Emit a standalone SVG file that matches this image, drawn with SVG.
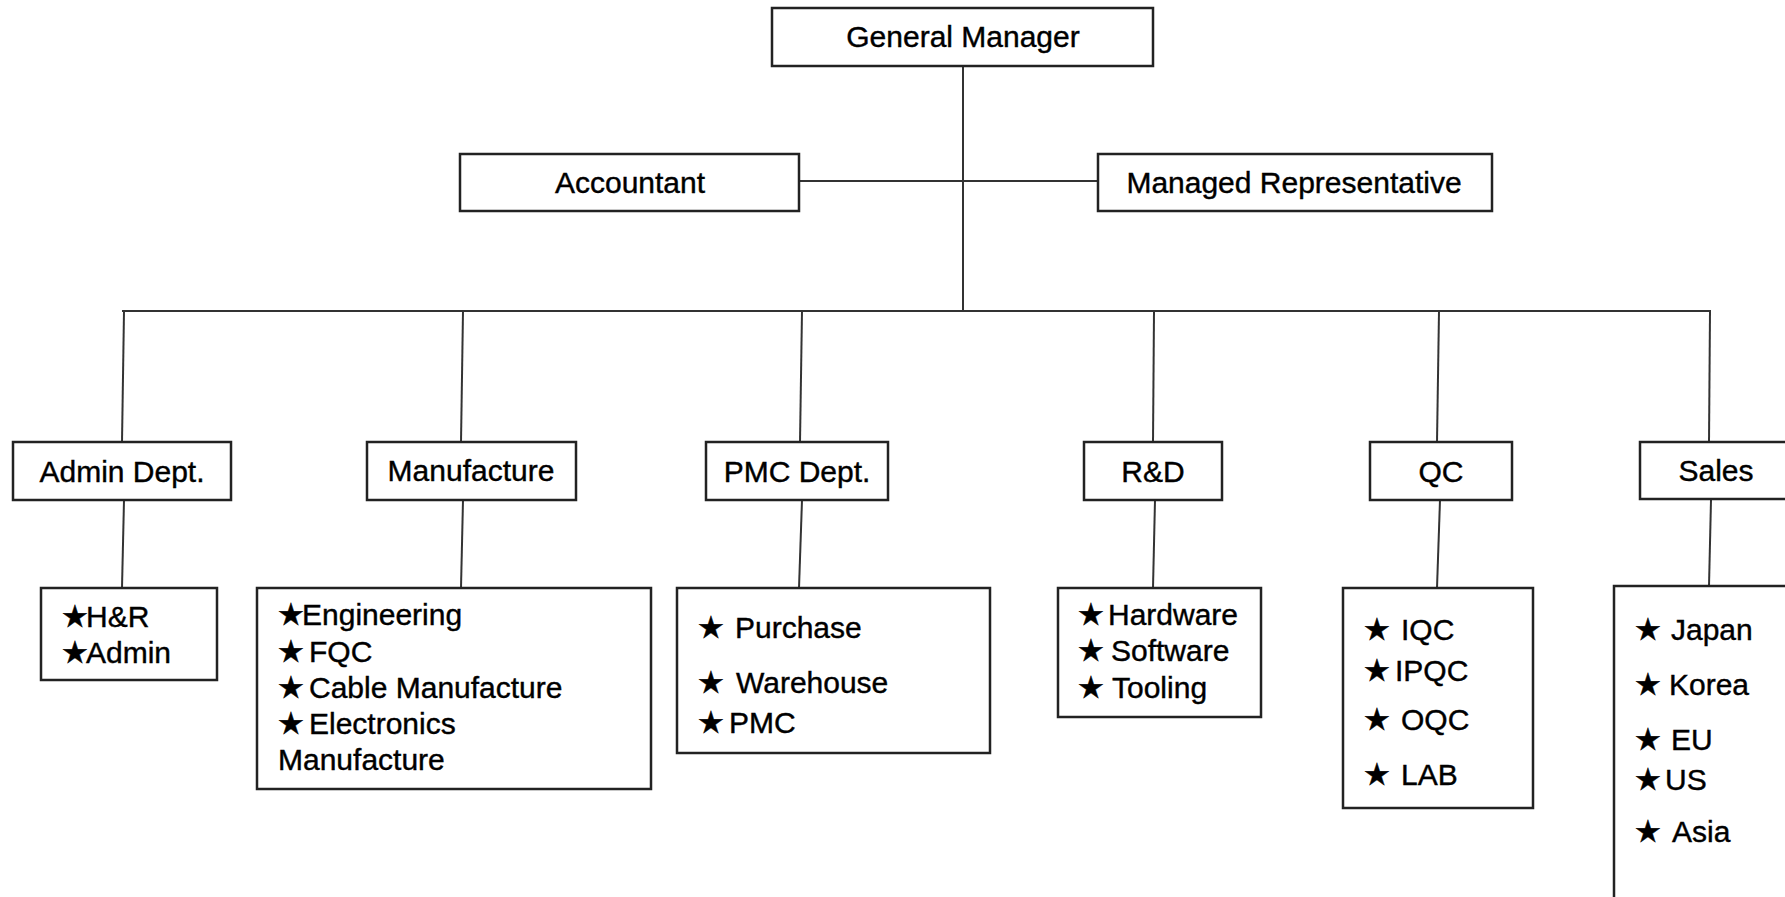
<svg xmlns="http://www.w3.org/2000/svg" width="1785" height="897" viewBox="0 0 1785 897">
<style>
rect{fill:#fff;stroke:#222;stroke-width:2.5}
.c line{stroke:#333;stroke-width:2;fill:none}
text{font-family:"Liberation Sans",Arial,sans-serif;font-size:30px;fill:#000;stroke:#000;stroke-width:0.4}
.m{text-anchor:middle}
.s{font-family:"DejaVu Sans",sans-serif;font-size:31px}
</style>
<rect x="0" y="0" width="1785" height="897" style="stroke:none"/>
<g class="c" id="connectors">
<line x1="963" y1="60" x2="963" y2="311"/>
<line x1="799" y1="181" x2="1098" y2="181"/>
<line x1="122" y1="311" x2="1711" y2="311"/>
<line x1="124" y1="311" x2="122" y2="442"/>
<line x1="463" y1="311" x2="461" y2="442"/>
<line x1="802" y1="311" x2="800" y2="442"/>
<line x1="1154" y1="311" x2="1153" y2="442"/>
<line x1="1439" y1="311" x2="1437" y2="442"/>
<line x1="1710" y1="311" x2="1709" y2="442"/>
<line x1="124" y1="500" x2="122" y2="588"/>
<line x1="463" y1="500" x2="461" y2="588"/>
<line x1="802" y1="500" x2="799" y2="588"/>
<line x1="1155" y1="500" x2="1153" y2="588"/>
<line x1="1440" y1="500" x2="1437" y2="588"/>
<line x1="1711" y1="500" x2="1709" y2="586"/>
</g>
<g id="gm"><rect x="772" y="8" width="381" height="58"/><text class="m" x="963" y="47">General Manager</text></g>
<g id="accountant"><rect x="460" y="154" width="339" height="57"/><text class="m" x="630" y="193">Accountant</text></g>
<g id="managed-rep"><rect x="1098" y="154" width="394" height="57"/><text class="m" x="1294" y="193">Managed Representative</text></g>
<g id="admin"><rect x="13" y="442" width="218" height="58"/><text class="m" x="122" y="482">Admin Dept.</text></g>
<g id="manufacture"><rect x="367" y="442" width="209" height="58"/><text class="m" x="471" y="481">Manufacture</text></g>
<g id="pmc"><rect x="706" y="442" width="182" height="58"/><text class="m" x="797" y="482">PMC Dept.</text></g>
<g id="rd"><rect x="1084" y="442" width="138" height="58"/><text class="m" x="1153" y="482">R&amp;D</text></g>
<g id="qc"><rect x="1370" y="442" width="142" height="58"/><text class="m" x="1441" y="482">QC</text></g>
<g id="sales"><rect x="1640" y="442" width="160" height="57"/><text class="m" x="1716" y="481">Sales</text></g>
<g id="admin-list"><rect x="41" y="588" width="176" height="92"/>
<text x="61" y="627"><tspan class="s">★</tspan><tspan x="86">H&amp;R</tspan></text>
<text x="61" y="663"><tspan class="s">★</tspan><tspan x="86">Admin</tspan></text>
</g>
<g id="manufacture-list"><rect x="257" y="588" width="394" height="201"/>
<text x="277" y="625"><tspan class="s">★</tspan><tspan x="302">Engineering</tspan></text>
<text x="277" y="662"><tspan class="s">★</tspan><tspan x="309">FQC</tspan></text>
<text x="277" y="698"><tspan class="s">★</tspan><tspan x="309">Cable Manufacture</tspan></text>
<text x="277" y="734"><tspan class="s">★</tspan><tspan x="309">Electronics</tspan></text>
<text x="278" y="770">Manufacture</text>
</g>
<g id="pmc-list"><rect x="677" y="588" width="313" height="165"/>
<text x="697" y="638"><tspan class="s">★</tspan><tspan x="735">Purchase</tspan></text>
<text x="697" y="693"><tspan class="s">★</tspan><tspan x="736">Warehouse</tspan></text>
<text x="697" y="733"><tspan class="s">★</tspan><tspan x="729">PMC</tspan></text>
</g>
<g id="rd-list"><rect x="1058" y="588" width="203" height="129"/>
<text x="1077" y="625"><tspan class="s">★</tspan><tspan x="1108">Hardware</tspan></text>
<text x="1077" y="661"><tspan class="s">★</tspan><tspan x="1111">Software</tspan></text>
<text x="1077" y="698"><tspan class="s">★</tspan><tspan x="1112">Tooling</tspan></text>
</g>
<g id="qc-list"><rect x="1343" y="588" width="190" height="220"/>
<text x="1363" y="640"><tspan class="s">★</tspan><tspan x="1401">IQC</tspan></text>
<text x="1363" y="681"><tspan class="s">★</tspan><tspan x="1395">IPQC</tspan></text>
<text x="1363" y="730"><tspan class="s">★</tspan><tspan x="1401">OQC</tspan></text>
<text x="1363" y="785"><tspan class="s">★</tspan><tspan x="1401">LAB</tspan></text>
</g>
<g id="sales-list"><rect x="1614" y="586" width="200" height="340"/>
<text x="1634" y="640"><tspan class="s">★</tspan><tspan x="1671">Japan</tspan></text>
<text x="1634" y="695"><tspan class="s">★</tspan><tspan x="1669">Korea</tspan></text>
<text x="1634" y="750"><tspan class="s">★</tspan><tspan x="1671">EU</tspan></text>
<text x="1634" y="790"><tspan class="s">★</tspan><tspan x="1665">US</tspan></text>
<text x="1634" y="842"><tspan class="s">★</tspan><tspan x="1672">Asia</tspan></text>
</g>
</svg>
